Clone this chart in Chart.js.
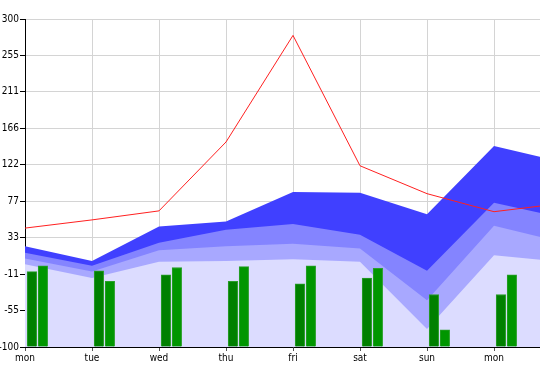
<!DOCTYPE html>
<html>
<head>
<meta charset="utf-8">
<script src="https://cdn.jsdelivr.net/npm/chart.js@4/dist/chart.umd.min.js"></script>
<style>
  html, body { margin: 0; padding: 0; background: #fff; overflow: hidden; }
  #wrap { width: 540px; height: 369px; overflow: hidden; position: relative; }
  canvas { position: absolute; left: 0; top: 0; }
</style>
</head>
<body>
<div id="wrap"><canvas id="chart" width="562" height="369"></canvas></div>
<script>
// --- data ---
const labels = ['mon', 'tue', 'wed', 'thu', 'fri', 'sat', 'sun', 'mon', 'tue'];
const redLine = [45, 55, 66, 150, 280, 121, 87, 65, 75];
const bandDark = [23, 5, 47, 53, 89, 88, 62, 145, 126];
const bandMid = [15, -1, 27, 43, 50, 37, -7, 76, 58];
const bandLight = [8, -8, 18, 23, 26, 20, -43, 48, 28];
const bandPale = [1, -16, 4, 5, 7, 4, -78, 12, 4];
const barsA = [-8, -7, -12, -20, -23, -16, -36, -36, -20];
const barsB = [-1, -20, -3, -2, -1, -4, -79, -12, -8];

const yMin = -100;
const yMax = 300;
const yTicks = [];
for (let i = 0; i <= 9; i++) yTicks.push(yMin + (i * (yMax - yMin)) / 9);

const font = { family: '"DejaVu Sans Condensed", "DejaVu Sans", sans-serif', size: 10 };

function area(data, color, order) {
  return {
    type: 'line', data: data, xAxisID: 'x',
    backgroundColor: color, borderWidth: 0, pointRadius: 0,
    fill: 'start', tension: 0, order: order
  };
}

// each bar series gets its own hidden axis, shifted so bars sit right of the day line
function bars(data, color, axis) {
  return {
    type: 'bar', xAxisID: axis, order: 2, grouped: false,
    data: data.map((v, i) => ({ x: i, y: v })),
    base: yMin, backgroundColor: color,
    borderColor: '#2a9e2a', borderWidth: 1,
    categoryPercentage: 1, barPercentage: 1, maxBarThickness: 9.5
  };
}

function shiftedAxis(shift) {
  return {
    type: 'linear',
    display: false,
    offset: false,
    min: -shift,
    max: labels.length - 1 - shift,
    afterBuildTicks: s => { s.ticks = labels.map((l, i) => ({ value: i })); }
  };
}

new Chart(document.getElementById('chart'), {
  type: 'bar',
  data: {
    labels: labels,
    datasets: [
      area(bandDark, '#4040ff', 10),
      area(bandMid, '#8484ff', 9),
      area(bandLight, '#a8a8ff', 8),
      area(bandPale, '#dcdcff', 7),
      bars(barsA, '#008000', 'xa'),
      bars(barsB, '#009600', 'xb'),
      {
        type: 'line', data: redLine, xAxisID: 'x', order: 1,
        borderColor: '#ff2020', borderWidth: 1, pointRadius: 0,
        fill: false, tension: 0
      }
    ]
  },
  options: {
    responsive: false,
    animation: false,
    layout: { padding: { top: 19, right: 1, left: 0, bottom: 0 } },
    plugins: { legend: { display: false }, tooltip: { enabled: false } },
    scales: {
      x: {
        type: 'category',
        offset: false,
        grid: { offset: false, color: '#d4d4d4', tickColor: '#555', tickLength: 4 },
        border: { color: '#000', width: 1 },
        ticks: { color: '#000', font: font, padding: 1, maxRotation: 0, autoSkip: false },
        afterFit: s => { s.height = 22; s.paddingLeft = 0; s.paddingRight = 0; }
      },
      xa: shiftedAxis(0.103),
      xb: shiftedAxis(0.267),
      y: {
        min: yMin,
        max: yMax,
        grid: { color: '#d4d4d4', tickColor: '#000', tickLength: 5 },
        border: { color: '#000', width: 1 },
        ticks: {
          color: '#000', font: font, padding: 1,
          callback: v => Math.trunc(Math.round(v * 1e6) / 1e6)
        },
        afterBuildTicks: s => { s.ticks = yTicks.map(v => ({ value: v })); },
        afterFit: s => { s.width = 25; s.paddingTop = 0; s.paddingBottom = 0; }
      }
    }
  }
});
</script>
</body>
</html>
